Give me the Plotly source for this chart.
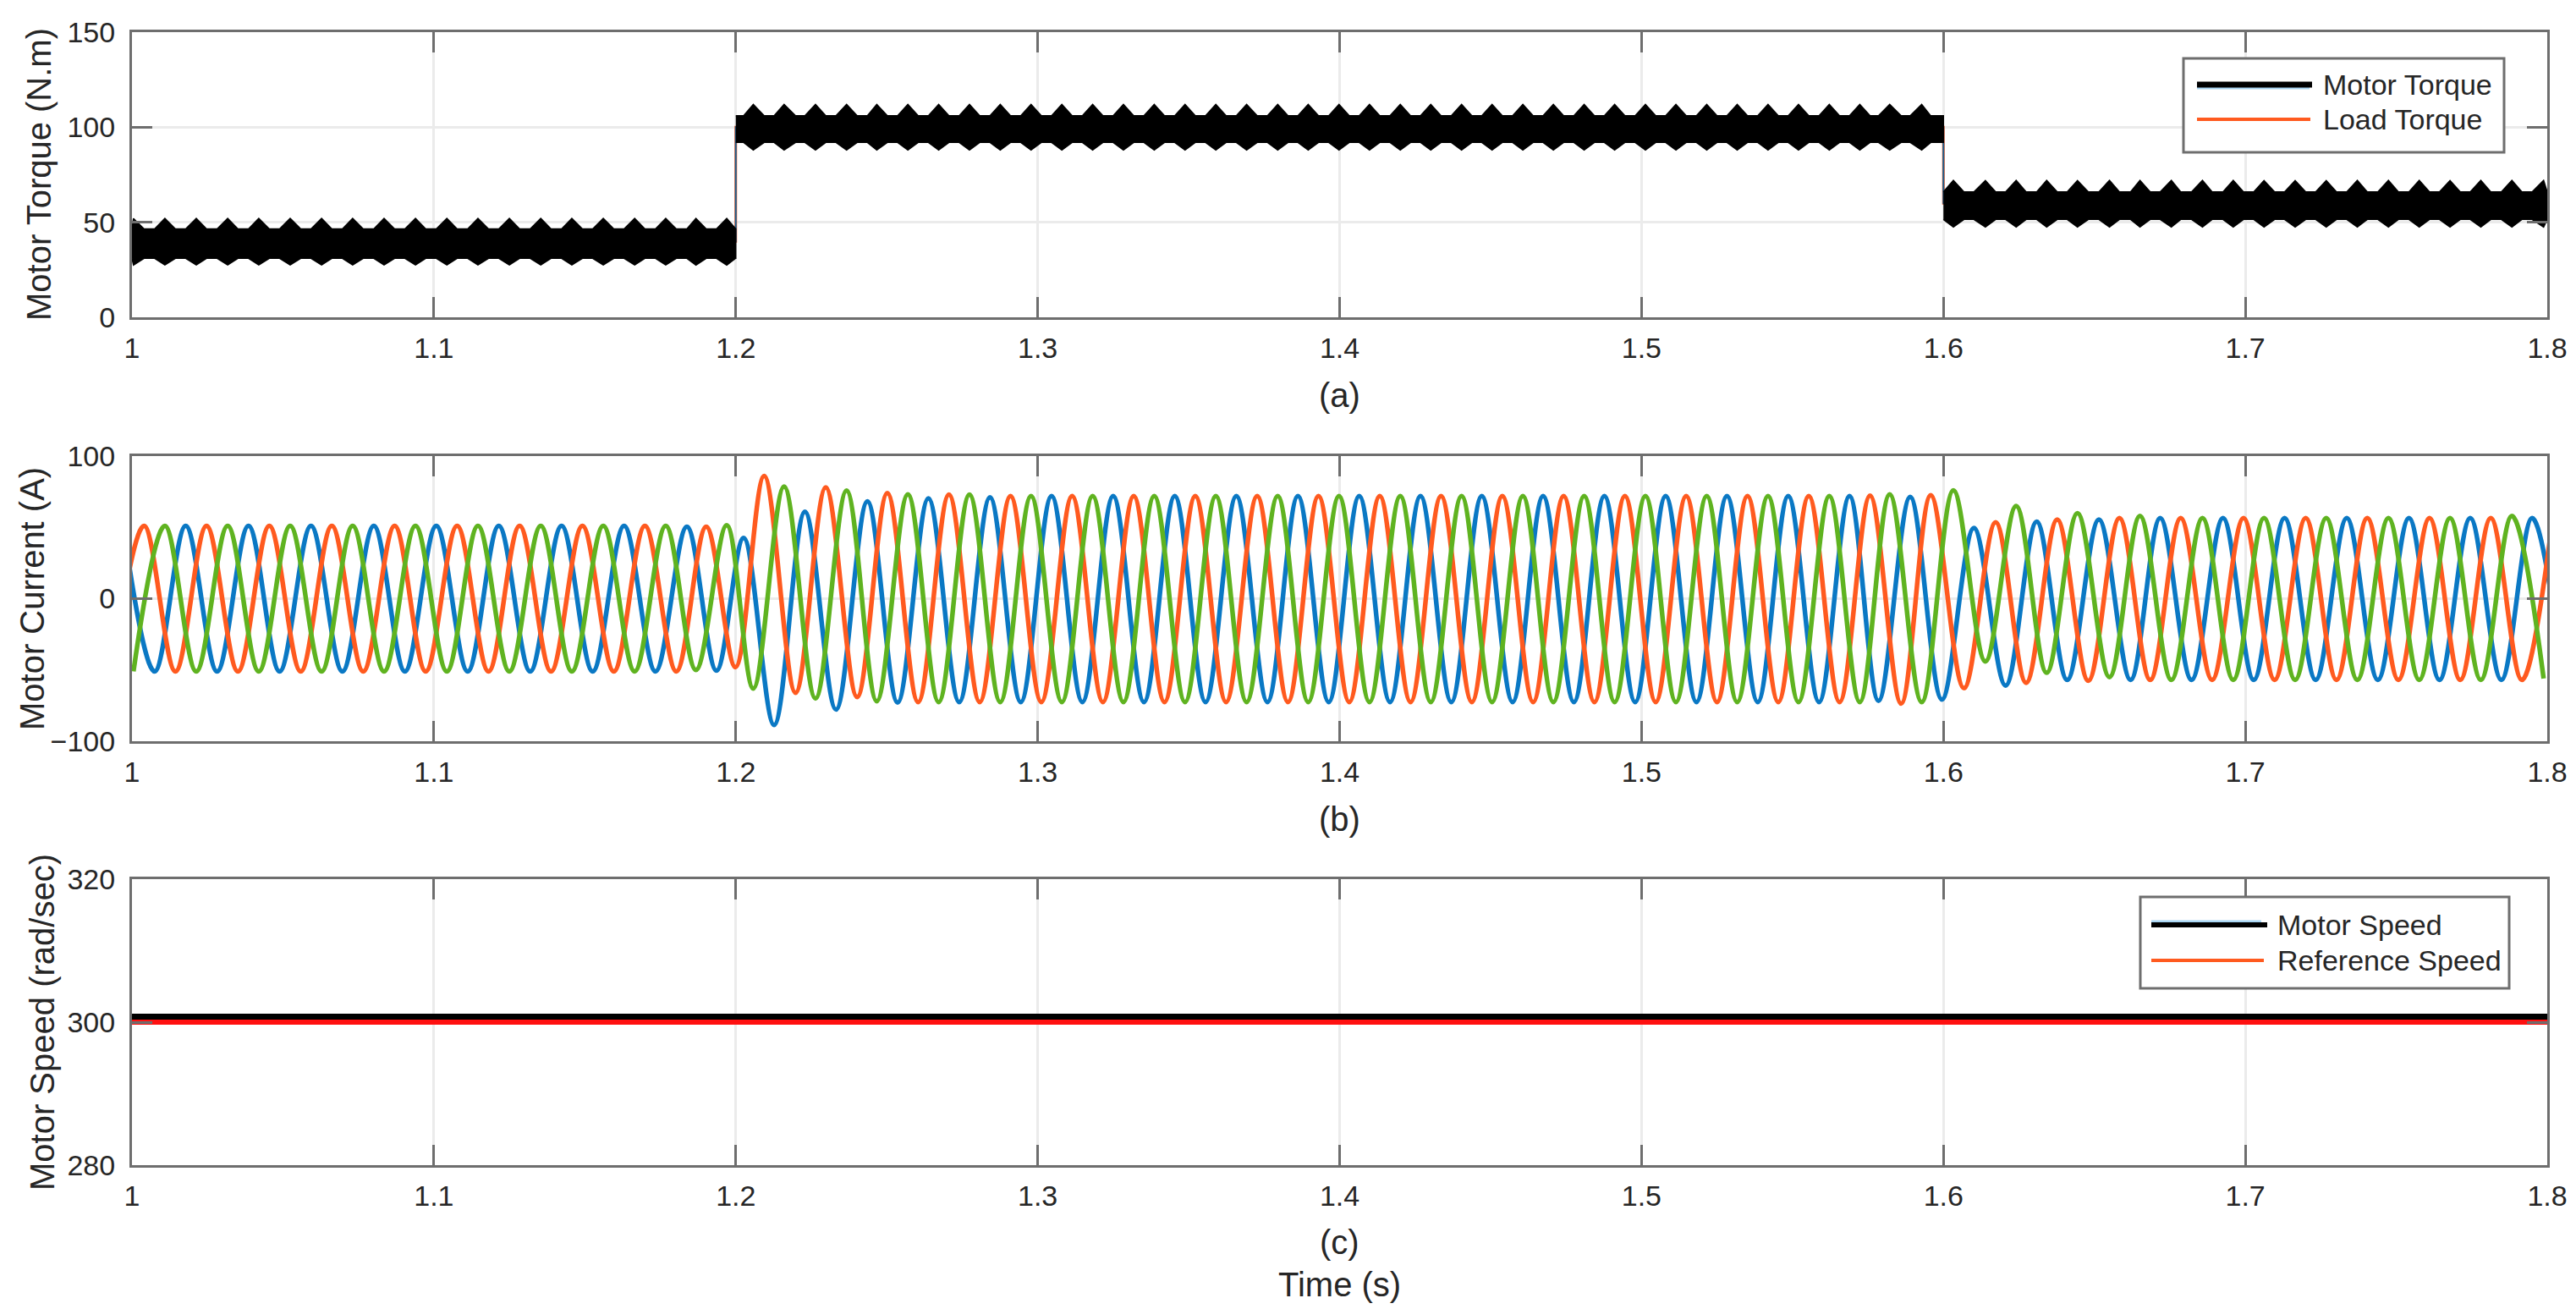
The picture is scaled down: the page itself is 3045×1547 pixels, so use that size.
import plotly.graph_objects as go

# ---------------- data ----------------
x_ticks = [1.0, 1.1, 1.2, 1.3, 1.4, 1.5, 1.6, 1.7, 1.8]
x_tick_text = ["1", "1.1", "1.2", "1.3", "1.4", "1.5", "1.6", "1.7", "1.8"]

# (a) torque
load_t = [1.0, 1.2, 1.2, 1.6, 1.6, 1.8]
load_v = [40, 40, 100, 100, 60, 60]
seg_start = [1.0, 1.2, 1.6]
seg_end = [1.2, 1.6, 1.8]
tq_hi_spike = [52.0, 112.0, 72.0]
tq_hi_body = [46.5, 106.0, 66.0]
tq_lo_body = [31.0, 92.0, 51.5]
tq_lo_spike = [27.5, 88.0, 47.5]

# (b) phase currents: extremum times (s) and extremum values (A)
blue_t = [0.9971, 1.0075, 1.0178, 1.0282, 1.0386, 1.0489, 1.0593, 1.0697, 1.0801, 1.0904,
          1.1008, 1.1112, 1.1215, 1.1319, 1.1423, 1.1526, 1.1630, 1.1734, 1.1838, 1.1936,
          1.2026, 1.2127, 1.2229, 1.2332, 1.2436, 1.2536, 1.2638, 1.2740, 1.2842, 1.2944,
          1.3046, 1.3148, 1.3250, 1.3352, 1.3454, 1.3556, 1.3658, 1.3761, 1.3862, 1.3964,
          1.4065, 1.4167, 1.4268, 1.4370, 1.4471, 1.4573, 1.4674, 1.4776, 1.4877, 1.4979,
          1.5080, 1.5182, 1.5283, 1.5385, 1.5486, 1.5588, 1.5689, 1.5785, 1.5890, 1.5995,
          1.6101, 1.6206, 1.6309, 1.6410, 1.6515, 1.6620, 1.6718, 1.6822, 1.6926, 1.7028,
          1.7130, 1.7233, 1.7336, 1.7439, 1.7542, 1.7643, 1.7745, 1.7848, 1.7950, 1.8052]
blue_i = [51, -51, 51, -51, 51, -51, 51, -51, 51, -51,
          51, -51, 51, -51, 51, -51, 51, -51, 50.5, -50.5,
          42.6, -88.6, 61, -77.8, 68.3, -72.9, 70.3, -72.5, 71, -72.5,
          72, -72.5, 72, -72.5, 72, -72.5, 72, -72.5, 72, -72.5,
          72, -72.5, 72, -72.5, 72, -72.5, 72, -72.5, 72, -72.5,
          72, -72.5, 72, -72.5, 72, -72.5, 72, -71.6, 71.3, -70.7,
          49.5, -61, 54, -57, 55.5, -57, 56.5, -57, 56.5, -57,
          56.5, -57, 56.5, -57, 56.5, -57, 56.5, -57, 56.5, -57]

orange_t = [0.9936, 1.0040, 1.0144, 1.0247, 1.0351, 1.0455, 1.0559, 1.0662, 1.0766, 1.0870,
            1.0973, 1.1077, 1.1181, 1.1284, 1.1388, 1.1492, 1.1596, 1.1699, 1.1803, 1.1902,
            1.1999, 1.2094, 1.2198, 1.2298, 1.2402, 1.2502, 1.2604, 1.2706, 1.2808, 1.2910,
            1.3012, 1.3114, 1.3216, 1.3318, 1.3420, 1.3522, 1.3624, 1.3727, 1.3829, 1.3930,
            1.4032, 1.4133, 1.4235, 1.4336, 1.4438, 1.4539, 1.4641, 1.4742, 1.4844, 1.4945,
            1.5047, 1.5148, 1.5250, 1.5351, 1.5453, 1.5554, 1.5656, 1.5757, 1.5860, 1.5958,
            1.6068, 1.6173, 1.6274, 1.6377, 1.6480, 1.6583, 1.6685, 1.6786, 1.6890, 1.6994,
            1.7097, 1.7200, 1.7302, 1.7404, 1.7507, 1.7610, 1.7712, 1.7813, 1.7916, 1.8018]
orange_i = [-51, 51, -51, 51, -51, 51, -51, 51, -51, 51,
            -51, 51, -51, 51, -51, 51, -51, 51, -51, 50.5,
            -48, 86, -66, 78, -69, 74, -72.5, 73, -72.5, 72,
            -72.5, 72, -72.5, 72, -72.5, 72, -72.5, 72, -72.5, 72,
            -72.5, 72, -72.5, 72, -72.5, 72, -72.5, 72, -72.5, 72,
            -72.5, 72, -72.5, 72, -72.5, 72, -72.5, 72.3, -73.6, 72.5,
            -62.8, 53.5, -59, 55.5, -57.6, 56.5, -57, 56.5, -57, 56.5,
            -57, 56.5, -57, 56.5, -57, 56.5, -57, 56.5, -57, 56.5]

green_t = [1.0005, 1.0109, 1.0213, 1.0317, 1.0420, 1.0524, 1.0628, 1.0731, 1.0835, 1.0939,
           1.1043, 1.1146, 1.1250, 1.1354, 1.1457, 1.1561, 1.1665, 1.1768, 1.1868, 1.1970,
           1.2058, 1.2160, 1.2264, 1.2367, 1.2467, 1.2570, 1.2672, 1.2774, 1.2876, 1.2978,
           1.3080, 1.3182, 1.3284, 1.3386, 1.3488, 1.3590, 1.3692, 1.3795, 1.3896, 1.3998,
           1.4099, 1.4201, 1.4302, 1.4404, 1.4505, 1.4607, 1.4708, 1.4810, 1.4911, 1.5013,
           1.5114, 1.5216, 1.5317, 1.5419, 1.5520, 1.5622, 1.5723, 1.5822, 1.5928, 1.6033,
           1.6139, 1.6241, 1.6342, 1.6444, 1.6550, 1.6651, 1.6755, 1.6858, 1.6960, 1.7062,
           1.7165, 1.7268, 1.7371, 1.7474, 1.7576, 1.7678, 1.7780, 1.7883, 1.7988]
green_i = [-51, 51, -51, 51, -51, 51, -51, 51, -51, 51,
           -51, 51, -51, 51, -51, 51, -51, 51, -50, 51.5,
           -63, 78.6, -70, 75.8, -71.9, 73.2, -72.5, 73, -72.5, 72,
           -72.5, 72, -72.5, 72, -72.5, 72, -72.5, 72, -72.5, 72,
           -72.5, 72, -72.5, 72, -72.5, 72, -72.5, 72, -72.5, 72,
           -72.5, 72, -72.5, 72, -72.5, 72, -72.5, 73.2, -72.6, 76,
           -44, 65, -52, 60, -55, 58, -57, 56.5, -57, 56.5,
           -57, 56.5, -57, 56.5, -57, 56.5, -57, 58, -56]

# (c) speed
speed_t = [1.0, 1.8]
motor_speed = [300.7, 300.7]
ref_speed = [300.0, 300.0]

# ---------------- styling ----------------
FONT = "Liberation Sans, Arial, Helvetica, sans-serif"
TXT = "#262626"
AX = "#6e6e6e"
BLUE, ORANGE, GREEN = "#0a78c4", "#ff5a1f", "#5fb320"
W, H = 3045, 1547
L, R = 148, 42


def px_x(p):
    return (p - L) / (W - L - R)


def px_y(p):
    return 1 - p / H


fig = go.Figure()

# ---- (a) torque ----
fig.add_trace(go.Scatter(x=load_t, y=load_v, mode="lines", line=dict(color=ORANGE, width=3),
                         xaxis="x", yaxis="y", showlegend=False, name="Load Torque"))
fig.add_trace(go.Scatter(x=load_t, y=load_v, mode="lines", line=dict(color="#1a5f8f", width=2),
                         xaxis="x", yaxis="y", showlegend=False, name="step"))

events = sorted([(t, "b") for t in blue_t] + [(t, "o") for t in orange_t] + [(t, "g") for t in green_t])
band_x, band_y = [], []
for s0, s1, hs, hb, lb, ls in zip(seg_start, seg_end, tq_hi_spike, tq_hi_body, tq_lo_body, tq_lo_spike):
    ev = [(t, c) for t, c in events if s0 < t < s1]
    ux = [s0] + [t for t, c in ev] + [s1]
    uy = [hb] + [hs if c == "g" else hb for t, c in ev] + [hb]
    ly = [lb] + [ls if c == "g" else lb for t, c in ev] + [lb]
    band_x += ux + ux[::-1] + [None]
    band_y += uy + ly[::-1] + [None]
fig.add_trace(go.Scatter(x=band_x, y=band_y, mode="lines", fill="toself", fillcolor="black",
                         line=dict(color="black", width=1.5), xaxis="x", yaxis="y",
                         showlegend=False, name="Motor Torque"))

# ---- (b) currents ----
for tt, ii, col in [(blue_t, blue_i, BLUE), (orange_t, orange_i, ORANGE), (green_t, green_i, GREEN)]:
    fig.add_trace(go.Scatter(x=tt, y=ii, mode="lines", line=dict(color=col, width=5.5, shape="spline", smoothing=1.0),
                             xaxis="x2", yaxis="y2", showlegend=False))

# ---- (c) speed ----
fig.add_trace(go.Scatter(x=speed_t, y=motor_speed, mode="lines", line=dict(color="black", width=8),
                         xaxis="x3", yaxis="y3", showlegend=False, name="Motor Speed"))
fig.add_trace(go.Scatter(x=speed_t, y=ref_speed, mode="lines", line=dict(color="#ff1010", width=6),
                         xaxis="x3", yaxis="y3", showlegend=False, name="Reference Speed"))

axis_common = dict(showline=True, linecolor=AX, linewidth=3, mirror="allticks", ticks="inside",
                   ticklen=24, tickwidth=3, tickcolor=AX, showgrid=True, gridcolor="#ebebeb",
                   gridwidth=3, zeroline=False,
                   tickfont=dict(size=34, color=TXT, family=FONT))

domains = [(px_y(367), px_y(30)), (px_y(868), px_y(531)), (px_y(1369), px_y(1031))]
yranges = [[0, 150], [-100, 100], [280, 320]]
ytickvals = [[0, 50, 100, 150], [-100, 0, 100], [280, 300, 320]]

layout = dict(width=W, height=H, paper_bgcolor="white", plot_bgcolor="white",
              margin=dict(l=L, r=R, t=0, b=0, autoexpand=False), showlegend=False,
              font=dict(family=FONT, color=TXT))
for k in range(3):
    sx = "" if k == 0 else str(k + 1)
    layout["xaxis" + sx] = dict(axis_common, range=[1.0, 1.8], tickvals=x_ticks, ticktext=x_tick_text,
                                anchor="y" + sx, domain=[0, 1], ticklabelstandoff=4)
    layout["yaxis" + sx] = dict(axis_common, range=yranges[k], tickvals=ytickvals[k],
                                anchor="x" + sx, domain=list(domains[k]), ticklabelstandoff=10)
fig.update_layout(**layout)

# ---- annotations (titles, panel letters) ----
ann = []
for text, xp, yp in [("Motor Torque (N.m)", 38, 198), ("Motor Current (A)", 30, 700),
                     ("Motor Speed (rad/sec)", 42, 1200)]:
    ann.append(dict(text=text, x=px_x(xp), y=px_y(yp), xref="paper", yref="paper", textangle=-90,
                    showarrow=False, xanchor="center", yanchor="middle", font=dict(size=40, color=TXT)))
for text, yp in [("(a)", 459), ("(b)", 960), ("(c)", 1460), ("Time (s)", 1510)]:
    ann.append(dict(text=text, x=0.5, y=px_y(yp), xref="paper", yref="paper", showarrow=False,
                    xanchor="center", yanchor="middle", font=dict(size=40, color=TXT)))

shapes = []


def legend_box(x0, y0, x1, y1):
    shapes.append(dict(type="rect", xref="paper", yref="paper", x0=px_x(x0), x1=px_x(x1),
                       y0=px_y(y1), y1=px_y(y0), line=dict(color="#6e6e6e", width=3),
                       fillcolor="white", layer="above"))


def legend_line(x0, x1, y, color, width):
    shapes.append(dict(type="line", xref="paper", yref="paper", x0=px_x(x0), x1=px_x(x1),
                       y0=px_y(y), y1=px_y(y), line=dict(color=color, width=width), layer="above"))


def legend_text(text, x, y):
    ann.append(dict(text=text, x=px_x(x), y=px_y(y), xref="paper", yref="paper", showarrow=False,
                    xanchor="left", yanchor="middle", font=dict(size=34, color=TXT)))


legend_box(2573, 61, 2952, 172)
legend_line(2589, 2722, 96, "#a9d5f2", 3)
legend_line(2589, 2725, 92, "black", 7)
legend_line(2589, 2723, 133, ORANGE, 4)
legend_text("Motor Torque", 2736, 92)
legend_text("Load Torque", 2736, 133)

legend_box(2522, 1052, 2958, 1160)
legend_line(2535, 2665, 1081, "#a9d5f2", 3)
legend_line(2535, 2672, 1085, "black", 6)
legend_line(2535, 2668, 1127, ORANGE, 4)
legend_text("Motor Speed", 2682, 1085)
legend_text("Reference Speed", 2682, 1127)

fig.update_layout(annotations=ann, shapes=shapes)
fig.write_html("out.html")
